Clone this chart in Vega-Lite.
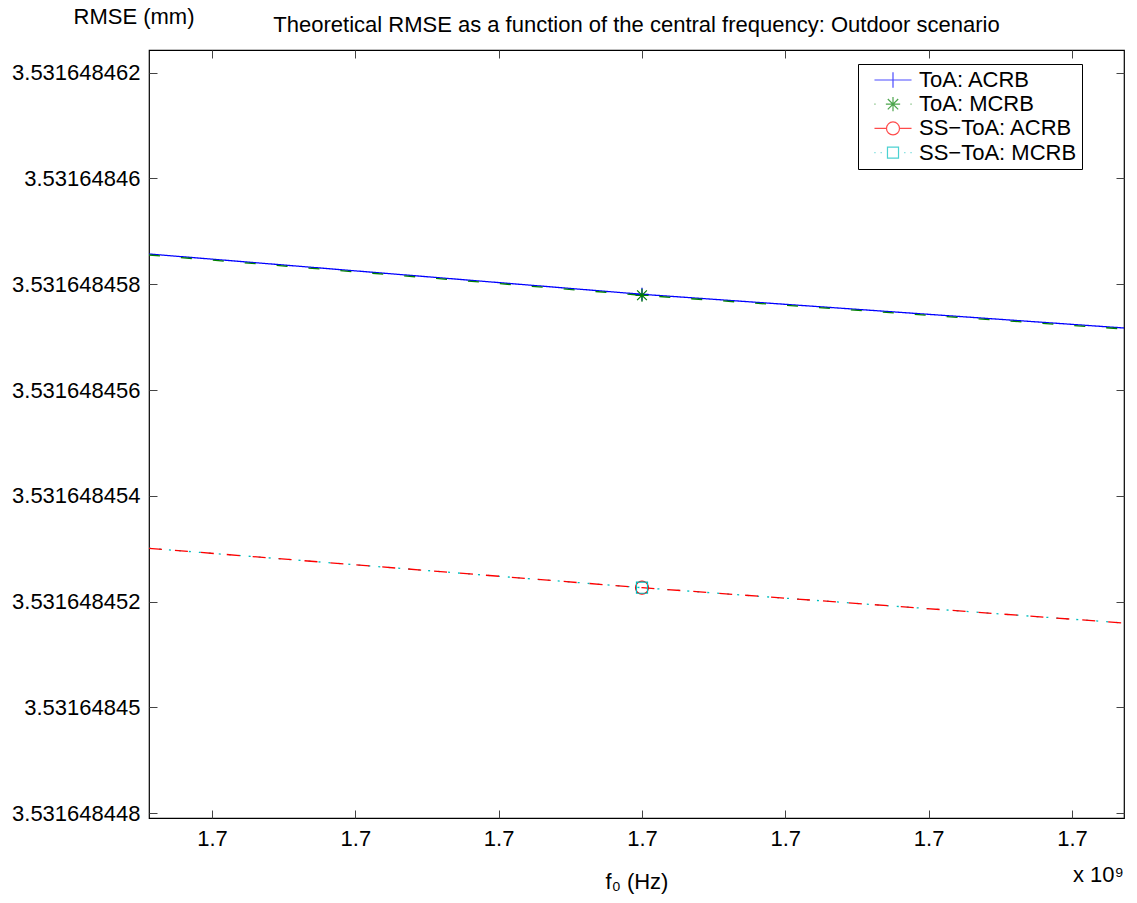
{
  "$schema": "https://vega.github.io/schema/vega-lite/v6.json",
  "width": 975,
  "height": 768,
  "autosize": {"type": "none"},
  "padding": {"left": 149, "top": 50, "right": 13, "bottom": 85},
  "background": "white",
  "title": {
    "text": "Theoretical RMSE as a function of the central frequency: Outdoor scenario",
    "anchor": "middle",
    "baseline": "alphabetic",
    "offset": -49,
    "font": "Liberation Sans",
    "fontSize": 22,
    "fontWeight": "normal",
    "color": "black"
  },
  "datasets": {
    "lines": [
      {"series": "ToA: ACRB", "f0": 1699999996.5604, "rmse": 3.5316484585727},
      {"series": "ToA: ACRB", "f0": 1700000000, "rmse": 3.5316484578108},
      {"series": "ToA: ACRB", "f0": 1700000003.363, "rmse": 3.5316484571738},
      {"series": "ToA: MCRB", "f0": 1699999996.5604, "rmse": 3.5316484585538},
      {"series": "ToA: MCRB", "f0": 1700000000, "rmse": 3.5316484577919},
      {"series": "ToA: MCRB", "f0": 1700000003.363, "rmse": 3.5316484571549},
      {"series": "SS−ToA: MCRB", "f0": 1699999996.5604, "rmse": 3.5316484530093},
      {"series": "SS−ToA: MCRB", "f0": 1700000000, "rmse": 3.5316484522645},
      {"series": "SS−ToA: MCRB", "f0": 1700000003.363, "rmse": 3.5316484515972},
      {"series": "SS−ToA: ACRB", "f0": 1699999996.5604, "rmse": 3.5316484530093},
      {"series": "SS−ToA: ACRB", "f0": 1700000000, "rmse": 3.5316484522645},
      {"series": "SS−ToA: ACRB", "f0": 1700000003.363, "rmse": 3.5316484515972}
    ],
    "markers": [
      {"series": "ToA: ACRB", "f0": 1700000000, "rmse": 3.5316484578108},
      {"series": "ToA: MCRB", "f0": 1700000000, "rmse": 3.5316484577919},
      {"series": "SS−ToA: ACRB", "f0": 1700000000, "rmse": 3.5316484522645},
      {"series": "SS−ToA: MCRB", "f0": 1700000000, "rmse": 3.5316484522645}
    ]
  },
  "layer": [
    {
      "data": {"name": "lines"},
      "mark": {"type": "line", "strokeWidth": 1.3, "clip": true},
      "encoding": {
        "x": {
          "field": "f0", "type": "quantitative",
          "scale": {"domain": [1699999996.5604, 1700000003.363], "zero": false, "nice": false},
          "axis": {
            "orient": "bottom",
            "values": [1699999997, 1699999998, 1699999999, 1700000000, 1700000001, 1700000002, 1700000003],
            "labelExpr": "format(datum.value / 1e9, '.1f')",
            "domain": false,
            "grid": false,
            "tickSize": -8,
            "tickColor": "#444444",
            "labelBaseline": "alphabetic",
            "labelPadding": 35,
            "labelFontSize": 22,
            "labelFont": "Liberation Sans",
            "labelColor": "black",
            "labelFlush": false,
            "labelOverlap": false,
            "title": "f₀ (Hz)",
            "titleFont": "Liberation Sans",
            "titleFontSize": 22,
            "titleFontWeight": "normal",
            "titleColor": "black",
            "titleBaseline": "alphabetic",
            "titleY": 70
          }
        },
        "y": {
          "field": "rmse", "type": "quantitative",
          "scale": {"domain": [3.531648447911, 3.531648462429], "zero": false, "nice": false},
          "axis": {
            "orient": "left",
            "values": [3.531648448, 3.53164845, 3.531648452, 3.531648454, 3.531648456, 3.531648458, 3.53164846, 3.531648462],
            "format": ".10~g",
            "domain": false,
            "grid": false,
            "tickSize": -8,
            "tickColor": "#444444",
            "labelPadding": 17,
            "labelFontSize": 22,
            "labelFont": "Liberation Sans",
            "labelColor": "black",
            "labelOverlap": false,
            "labelFlush": false,
            "title": "RMSE (mm)",
            "titleFont": "Liberation Sans",
            "titleFontSize": 22,
            "titleFontWeight": "normal",
            "titleColor": "black",
            "titleAngle": 0,
            "titleAlign": "center",
            "titleBaseline": "alphabetic",
            "titleX": -15.5,
            "titleY": -26.7
          }
        },
        "color": {
          "field": "series", "type": "nominal",
          "scale": {
            "domain": ["ToA: ACRB", "ToA: MCRB", "SS−ToA: ACRB", "SS−ToA: MCRB"],
            "range": ["#0000ff", "#008000", "#ff0000", "#00bfbf"]
          },
          "legend": null
        },
        "strokeDash": {
          "field": "series", "type": "nominal",
          "scale": {
            "domain": ["ToA: ACRB", "ToA: MCRB", "SS−ToA: ACRB", "SS−ToA: MCRB"],
            "range": [[1, 0], [11, 21], [13, 13], [2, 8]]
          },
          "legend": null
        }
      }
    },
    {
      "data": {"name": "markers"},
      "mark": {"type": "point", "filled": false, "size": 169, "strokeWidth": 1.2, "opacity": 1},
      "encoding": {
        "x": {
          "field": "f0", "type": "quantitative",
          "scale": {"domain": [1699999996.5604, 1700000003.363], "zero": false, "nice": false},
          "axis": {
            "orient": "top",
            "values": [1699999997, 1699999998, 1699999999, 1700000000, 1700000001, 1700000002, 1700000003],
            "labels": false,
            "domain": false,
            "grid": false,
            "tickSize": -8,
            "tickColor": "#444444",
            "title": "x 10⁹",
            "titleFont": "Liberation Sans",
            "titleFontSize": 22,
            "titleFontWeight": "normal",
            "titleColor": "black",
            "titleAlign": "center",
            "titleBaseline": "alphabetic",
            "titleAngle": 0,
            "titleX": 949,
            "titleY": 831
          }
        },
        "y": {
          "field": "rmse", "type": "quantitative",
          "scale": {"domain": [3.531648447911, 3.531648462429], "zero": false, "nice": false},
          "axis": {
            "orient": "right",
            "values": [3.531648448, 3.53164845, 3.531648452, 3.531648454, 3.531648456, 3.531648458, 3.53164846, 3.531648462],
            "labels": false,
            "domain": false,
            "grid": false,
            "tickSize": -8,
            "tickColor": "#444444",
            "title": null
          }
        },
        "color": {
          "field": "series", "type": "nominal",
          "scale": {
            "domain": ["ToA: ACRB", "ToA: MCRB", "SS−ToA: ACRB", "SS−ToA: MCRB"],
            "range": ["#0000ff", "#008000", "#ff0000", "#00bfbf"]
          },
          "legend": null
        },
        "shape": {
          "field": "series", "type": "nominal",
          "scale": {
            "domain": ["ToA: ACRB", "ToA: MCRB", "SS−ToA: ACRB", "SS−ToA: MCRB"],
            "range": [
              "M-1,0H1M0,-1V1",
              "M-1,0H1M0,-1V1M-0.75,-0.75L0.75,0.75M-0.75,0.75L0.75,-0.75",
              "M-1,0A1,1,0,1,0,1,0A1,1,0,1,0,-1,0Z",
              "M-0.85,-0.85H0.85V0.85H-0.85Z"
            ]
          },
          "legend": null
        }
      }
    },
    {
      "data": {"name": "markers"},
      "transform": [{"filter": "datum.f0 < 0"}],
      "mark": {"type": "point", "filled": false, "size": 169, "strokeWidth": 1.2},
      "encoding": {
        "x": {"field": "f0", "type": "quantitative", "axis": null},
        "y": {"field": "rmse", "type": "quantitative", "axis": null},
        "color": {
          "field": "series", "type": "nominal",
          "scale": {
            "domain": ["ToA: ACRB", "ToA: MCRB", "SS−ToA: ACRB", "SS−ToA: MCRB"],
            "range": ["#0000ff", "#008000", "#ff0000", "#00bfbf"]
          },
          "legend": {
            "orient": "none",
            "legendX": 709,
            "legendY": 14,
            "title": null,
            "padding": 5,
            "symbolOffset": 19,
            "labelOffset": 15,
            "rowPadding": 2.2,
            "strokeColor": "black",
            "fillColor": "white",
            "labelFont": "Liberation Sans",
            "labelFontSize": 22,
            "labelColor": "black",
            "labelExpr": "datum.label + '\u00a0\u00a0'",
            "symbolSize": 169,
            "symbolStrokeWidth": 1.2,
            "labelLimit": 400
          }
        },
        "shape": {
          "field": "series", "type": "nominal",
          "scale": {
            "domain": ["ToA: ACRB", "ToA: MCRB", "SS−ToA: ACRB", "SS−ToA: MCRB"],
            "range": [
              "M-2.85,0H2.85M0,-1.2V1.2",
              "M-2.85,0H-2.7M2.7,0H2.85M-1.1,0H1.1M0,-1.1V1.1M-0.8,-0.8L0.8,0.8M-0.8,0.8L0.8,-0.8",
              "M-2.85,0H-1M1,0H2.85M-1,0A1,1,0,1,0,1,0A1,1,0,1,0,-1,0Z",
              "M-2.85,0H-2.7M-1.9,0H-1.75M1.75,0H1.9M2.7,0H2.85M-0.85,-0.85H0.85V0.85H-0.85Z"
            ]
          },
          "legend": {
            "orient": "none",
            "legendX": 709,
            "legendY": 14,
            "title": null,
            "padding": 5,
            "symbolOffset": 19,
            "labelOffset": 15,
            "rowPadding": 2.2,
            "strokeColor": "black",
            "fillColor": "white",
            "labelFont": "Liberation Sans",
            "labelFontSize": 22,
            "labelColor": "black",
            "labelExpr": "datum.label + '\u00a0\u00a0'",
            "symbolSize": 169,
            "symbolStrokeWidth": 1.2,
            "labelLimit": 400
          }
        }
      }
    }
  ],
  "resolve": {
    "scale": {"shape": "independent"},
    "axis": {"x": "independent", "y": "independent"},
    "legend": {"color": "independent", "shape": "independent", "strokeDash": "independent"}
  },
  "config": {
    "font": "Liberation Sans",
    "view": {"stroke": "black", "strokeWidth": 1.2}
  }
}
